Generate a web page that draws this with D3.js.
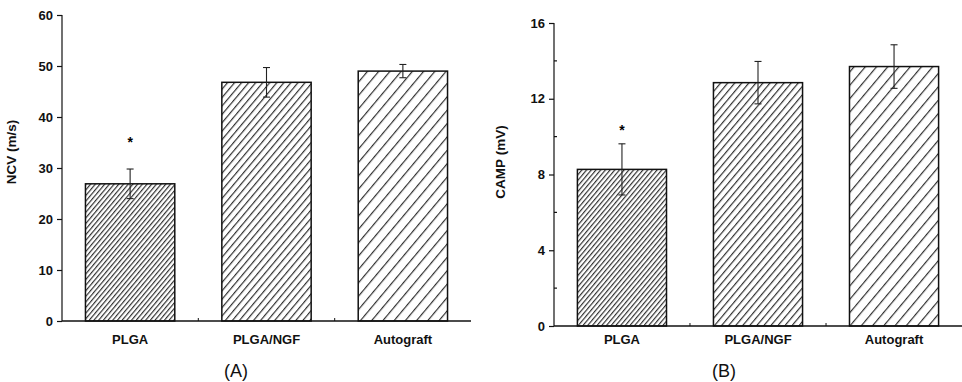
<!DOCTYPE html>
<html>
<head>
<meta charset="utf-8">
<script src="https://cdn.jsdelivr.net/npm/d3@7"></script>
<style>
  body { margin: 0; background: #fff; }
  text { font-family: "Liberation Sans", Arial, sans-serif; }
</style>
</head>
<body>
<div id="chart"></div>
<script>
// data
var groups = ["PLGA", "PLGA/NGF", "Autograft"];
var ncvMean = [26.9, 46.8, 49.0];
var ncvErr = [2.9, 2.9, 1.3];
var ncvStar = [35.7, null, null];
var campMean = [8.27, 12.85, 13.7];
var campErr = [1.35, 1.12, 1.15];
var campStar = [10.5, null, null];
var ncvTicks = [0, 10, 20, 30, 40, 50, 60];
var campTicks = [0, 4, 8, 12, 16];
var campMinor = [2, 6, 10, 14];

var svgWidth = 962;
var svgHeight = 382;

var svg = d3.select("#chart")
    .append("svg")
    .attr("width", svgWidth)
    .attr("height", svgHeight);

// hatch patterns, dense -> sparse
var defs = svg.append("defs");
var hatchGap = [3.6, 5.4, 8.6];
hatchGap.forEach(function(g, i) {
    var p = defs.append("pattern")
        .attr("id", "hatch" + i)
        .attr("patternUnits", "userSpaceOnUse")
        .attr("width", g)
        .attr("height", 10)
        .attr("patternTransform", "rotate(40)");
    p.append("rect").attr("width", g).attr("height", 10).attr("fill", "#fff");
    p.append("line")
        .attr("x1", 0.6).attr("y1", 0)
        .attr("x2", 0.6).attr("y2", 10)
        .attr("stroke", "#2a2a2a")
        .attr("stroke-width", 1.15);
});

function drawPanel(cfg) {
    var g = svg.append("g");

    var x = d3.scaleBand()
        .domain(groups)
        .range([cfg.left, cfg.right])
        .paddingInner(0.345)
        .paddingOuter(0.172);

    var y = d3.scaleLinear()
        .domain([0, cfg.max])
        .range([cfg.bottom, cfg.top]);

    // bars
    g.selectAll("rect.bar")
        .data(cfg.mean)
        .enter()
        .append("rect")
        .attr("class", "bar")
        .attr("x", (d, i) => x(groups[i]))
        .attr("y", d => y(d))
        .attr("width", x.bandwidth())
        .attr("height", d => y(0) - y(d))
        .attr("fill", (d, i) => "url(#hatch" + i + ")")
        .attr("stroke", "#111")
        .attr("stroke-width", 1.5);

    // error bars
    var cap = 3.5;
    cfg.mean.forEach(function(m, i) {
        var cx = x(groups[i]) + x.bandwidth() / 2;
        var e = cfg.err[i];
        g.append("line")
            .attr("x1", cx).attr("x2", cx)
            .attr("y1", y(m + e)).attr("y2", y(m - e))
            .attr("stroke", "#222").attr("stroke-width", 1.1);
        [m + e, m - e].forEach(function(v) {
            g.append("line")
                .attr("x1", cx - cap).attr("x2", cx + cap)
                .attr("y1", y(v)).attr("y2", y(v))
                .attr("stroke", "#222").attr("stroke-width", 1.1);
        });
        if (cfg.star[i] != null) {
            g.append("text")
                .attr("x", cx)
                .attr("y", y(cfg.star[i]) + 8)
                .attr("text-anchor", "middle")
                .attr("font-size", "14px")
                .attr("font-weight", "bold")
                .text("*");
        }
    });

    // y axis
    var yAxis = d3.axisLeft(y)
        .tickValues(cfg.ticks)
        .tickSize(5)
        .tickPadding(4)
        .tickFormat(d3.format("d"));
    var ya = g.append("g")
        .attr("transform", `translate(${cfg.left}, 0)`)
        .call(yAxis);
    ya.select(".domain").attr("d", `M0,${cfg.top}V${cfg.bottom}`);
    if (cfg.minor) {
        ya.selectAll(".minor")
            .data(cfg.minor)
            .enter()
            .append("line")
            .attr("class", "minor")
            .attr("x1", 0).attr("x2", 3)
            .attr("y1", d => y(d)).attr("y2", d => y(d));
    }
    ya.selectAll("line, path").attr("stroke", "#111").attr("stroke-width", 1.2);
    ya.selectAll("text")
        .attr("font-size", "13px")
        .attr("font-weight", "bold")
        .attr("fill", "#111");

    // x axis: baseline with inward ticks between groups
    var xa = g.append("g");
    xa.append("line")
        .attr("x1", cfg.left).attr("x2", cfg.right)
        .attr("y1", y(0)).attr("y2", y(0))
        .attr("stroke", "#111").attr("stroke-width", 1.3);
    xa.selectAll(".sep")
        .data(groups.slice(1))
        .enter()
        .append("line")
        .attr("x1", d => x(d) - x.step() * x.paddingInner() / 2)
        .attr("x2", d => x(d) - x.step() * x.paddingInner() / 2)
        .attr("y1", y(0)).attr("y2", y(0) - 3)
        .attr("stroke", "#111").attr("stroke-width", 1);
    xa.selectAll(".cat")
        .data(groups)
        .enter()
        .append("text")
        .attr("x", d => x(d) + x.bandwidth() / 2)
        .attr("y", cfg.catY)
        .attr("text-anchor", "middle")
        .attr("font-size", "13px")
        .attr("font-weight", "bold")
        .attr("fill", "#111")
        .text(d => d);

    // y label
    g.append("text")
        .attr("transform", `translate(${cfg.labelX}, ${cfg.labelY}) rotate(-90)`)
        .attr("text-anchor", "middle")
        .attr("font-size", "13.5px")
        .attr("font-weight", "bold")
        .attr("fill", "#111")
        .text(cfg.label);

    // panel letter
    g.append("text")
        .attr("x", cfg.letterX)
        .attr("y", 377)
        .attr("text-anchor", "middle")
        .attr("font-family", "Liberation Serif, Times New Roman, serif")
        .attr("font-size", "18px")
        .attr("fill", "#111")
        .text(cfg.letter);
}

drawPanel({
    left: 62, right: 471, top: 15, bottom: 321, max: 60,
    mean: ncvMean, err: ncvErr, star: ncvStar, ticks: ncvTicks,
    label: "NCV (m/s)", labelX: 16, labelY: 152, catY: 344,
    letter: "(A)", letterX: 236
});

drawPanel({
    left: 554, right: 962, top: 23, bottom: 326, max: 16,
    mean: campMean, err: campErr, star: campStar, ticks: campTicks, minor: campMinor,
    label: "CAMP (mV)", labelX: 505, labelY: 162, catY: 344,
    letter: "(B)", letterX: 724
});
</script>
</body>
</html>
